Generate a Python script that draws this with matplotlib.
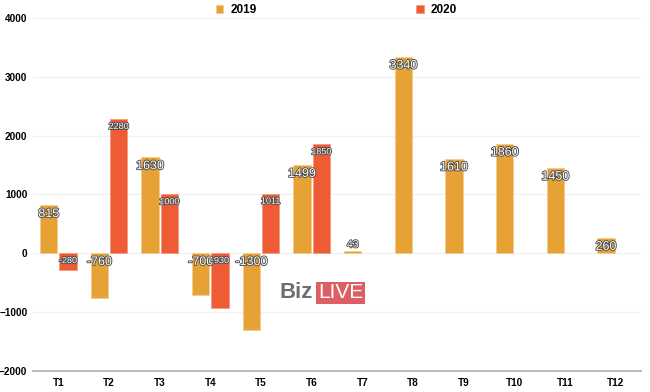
import numpy as np
import matplotlib.pyplot as plt
import matplotlib.patheffects as pe

plt.rcParams['font.family'] = ['Liberation Sans', 'DejaVu Sans']

months = ['T1', 'T2', 'T3', 'T4', 'T5', 'T6', 'T7', 'T8', 'T9', 'T10', 'T11', 'T12']
vals_2019 = [815, -760, 1630, -700, -1300, 1499, 43, 3340, 1610, 1860, 1450, 260]
vals_2020 = [-280, 2280, 1000, -930, 1011, 1850]

c2019 = '#E6A234'
c2020 = '#EE5B34'

fig = plt.figure(figsize=(6.5, 3.92), dpi=100)
ax = fig.add_axes([33 / 650, 1 - 371 / 392, 608 / 650, 353 / 392])

x = np.arange(len(months))
w = 0.34
b1 = ax.bar(x - 0.02 - w / 2, vals_2019, w, color=c2019, edgecolor='#F3CD8E', linewidth=0.6,
            label='2019', zorder=3)
x20 = x[:len(vals_2020)]
b2 = ax.bar(x20 + 0.02 + w / 2, vals_2020, w, color=c2020, edgecolor='#F59A80', linewidth=0.6,
            label='2020', zorder=3)

stroke = [pe.withStroke(linewidth=1.3, foreground='#4A4A4A')]


def put_labels(bars, vals, size):
    for b, v in zip(bars, vals):
        cx = b.get_x() + b.get_width() / 2
        top = max(v, 0)
        if abs(v) < 200:
            off, va, fs = 1, 'bottom', size - 1.5
        else:
            off, va, fs = -2, 'top', size
        ax.annotate(str(v), (cx, top), xytext=(0, off), textcoords='offset points',
                    ha='center', va=va, color='white', fontsize=fs,
                    path_effects=stroke, zorder=5)


put_labels(b1, vals_2019, 9)
put_labels(b2, vals_2020, 6.5)

ax.set_xlim(-0.5, 11.5)
ax.set_ylim(-2000, 4000)
ax.set_yticks(range(-2000, 4001, 1000))
ax.set_xticks(x)
ax.set_xticklabels(months)
for lab in ax.get_xticklabels() + ax.get_yticklabels():
    lab.set_fontweight('bold')
    lab.set_fontsize(7.2)
ax.tick_params(length=0)
ax.tick_params(axis='y', pad=4)
ax.tick_params(axis='x', pad=5)
ax.grid(axis='y', color='#F0F0F0', linewidth=0.8, zorder=0)
for s in ['top', 'right', 'left']:
    ax.spines[s].set_visible(False)
ax.spines['bottom'].set_color('#BBBBBB')
ax.spines['bottom'].set_linewidth(1.5)
ax.spines['bottom'].set_zorder(4)

leg = fig.legend(loc='center', bbox_to_anchor=(336.5 / 650, 1 - 10 / 392), ncol=2, frameon=False,
                 prop={'weight': 'bold', 'size': 8.5}, handlelength=0.65, handleheight=0.65,
                 handletextpad=0.6, columnspacing=13.5)

# watermark
fig.text(313 / 650, 1 - 293 / 392, 'Biz', ha='right', va='center', fontsize=16,
         color='#6E6E6E', fontweight='bold')
fig.text(318 / 650, 1 - 293 / 392, 'LIVE', ha='left', va='center', fontsize=15,
         color='white', bbox=dict(boxstyle='square,pad=0.08', fc='#DD5F66', ec='none'))

fig.savefig('out.png', dpi=100)
